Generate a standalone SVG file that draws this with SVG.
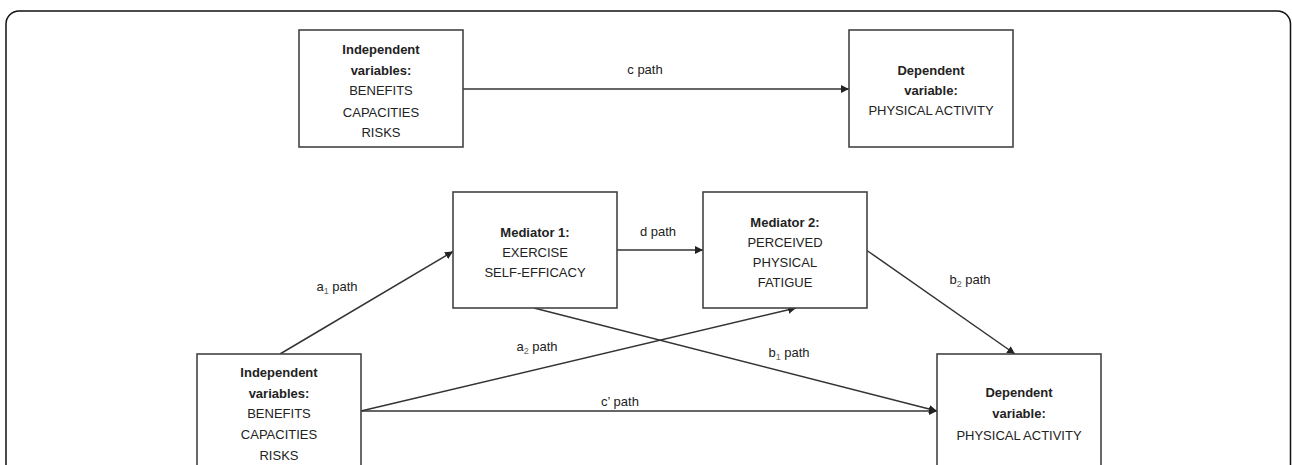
<svg xmlns="http://www.w3.org/2000/svg" width="1292" height="465" viewBox="0 0 1292 465">
<defs>
<marker id="arr" viewBox="0 0 10 10" refX="10" refY="5" markerWidth="8" markerHeight="8" markerUnits="userSpaceOnUse" orient="auto">
<path d="M0,0 L10,5 L0,10 z" fill="#222"/>
</marker>
</defs>
<style>
.box{fill:#fff;stroke:#444;stroke-width:1.6}
.t{font-family:"Liberation Sans",Arial,sans-serif;font-size:13px;fill:#222;text-anchor:middle}
.b{font-weight:bold}
.e{stroke:#333;stroke-width:1.5;fill:none;marker-end:url(#arr)}
.s{font-size:9px;fill:#666}
</style>
<rect x="6" y="11" width="1284.5" height="480" rx="13" fill="#fff" stroke="#111" stroke-width="1.5"/>

<g id="connectors">
<line class="e" x1="463" y1="89" x2="849" y2="89"/>
<line class="e" x1="617" y1="250" x2="703" y2="250"/>
<line class="e" x1="280" y1="354" x2="453" y2="251.5"/>
<line class="e" x1="361" y1="411" x2="796" y2="308"/>
<line class="e" x1="361" y1="411" x2="937" y2="411"/>
<line class="e" x1="534" y1="308" x2="937" y2="411"/>
<line class="e" x1="867" y1="250.5" x2="1015" y2="354"/>
<text class="t" x="645" y="73.5">c path</text>
<text class="t" x="658" y="235.5">d path</text>
<text class="t" x="337" y="290.5">a<tspan class="s" dy="3">1</tspan><tspan dy="-3"> path</tspan></text>
<text class="t" x="537" y="351">a<tspan class="s" dy="3">2</tspan><tspan dy="-3"> path</tspan></text>
<text class="t" x="620" y="406">c’ path</text>
<text class="t" x="789" y="357">b<tspan class="s" dy="3">1</tspan><tspan dy="-3"> path</tspan></text>
<text class="t" x="970" y="283.5">b<tspan class="s" dy="3">2</tspan><tspan dy="-3"> path</tspan></text>
</g>

<g id="iv-top">
<rect class="box" x="299" y="30" width="164" height="117"/>
<text class="t b" x="381" y="53.5">Independent</text>
<text class="t b" x="381" y="75">variables:</text>
<text class="t" x="381" y="95">BENEFITS</text>
<text class="t" x="381" y="116.5">CAPACITIES</text>
<text class="t" x="381" y="137">RISKS</text>
</g>

<g id="dv-top">
<rect class="box" x="849" y="30" width="164" height="117"/>
<text class="t b" x="931" y="74.5">Dependent</text>
<text class="t b" x="931" y="95">variable:</text>
<text class="t" x="931" y="114.5">PHYSICAL ACTIVITY</text>
</g>

<g id="mediator1">
<rect class="box" x="453" y="192" width="164" height="116"/>
<text class="t b" x="535" y="236.5">Mediator 1:</text>
<text class="t" x="535" y="256.5">EXERCISE</text>
<text class="t" x="535" y="276.5">SELF-EFFICACY</text>
</g>

<g id="mediator2">
<rect class="box" x="703" y="192" width="164" height="116"/>
<text class="t b" x="785" y="226.5">Mediator 2:</text>
<text class="t" x="785" y="246.5">PERCEIVED</text>
<text class="t" x="785" y="266.5">PHYSICAL</text>
<text class="t" x="785" y="287">FATIGUE</text>
</g>

<g id="iv-bottom">
<rect class="box" x="197" y="354" width="164" height="130"/>
<text class="t b" x="279" y="377">Independent</text>
<text class="t b" x="279" y="397.5">variables:</text>
<text class="t" x="279" y="417.5">BENEFITS</text>
<text class="t" x="279" y="439">CAPACITIES</text>
<text class="t" x="279" y="459.5">RISKS</text>
</g>

<g id="dv-bottom">
<rect class="box" x="937" y="354" width="164" height="130"/>
<text class="t b" x="1019" y="397">Dependent</text>
<text class="t b" x="1019" y="417.5">variable:</text>
<text class="t" x="1019" y="439.5">PHYSICAL ACTIVITY</text>
</g>
</svg>
